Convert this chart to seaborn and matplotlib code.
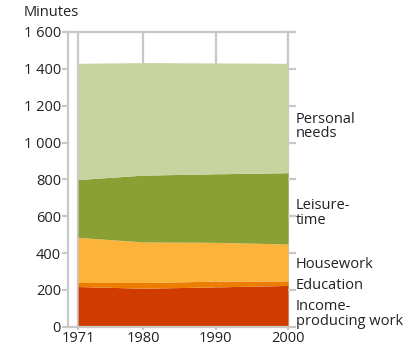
import matplotlib
matplotlib.use("Agg")
import matplotlib.pyplot as plt
from matplotlib.ticker import FuncFormatter
import seaborn as sns

# minutes per day
years = [1971, 1980, 1990, 2000]
income = [218, 209, 216, 224]
education = [22, 31, 31, 25]
housework = [245, 220, 211, 200]
leisure = [314, 363, 372, 387]
personal = [631, 611, 602, 594]

labels = ["Income-\nproducing work", "Education", "Housework", "Leisure-\ntime", "Personal\nneeds"]
label_y = [68, 226, 340, 617, 1088]
colors = ["#D03C00", "#EC7D00", "#FBB33A", "#8A9F34", "#C8D3A0"]
yticks = list(range(0, 1601, 200))

sns.set_theme(style="white")
plt.rcParams["font.family"] = ["Open Sans", "DejaVu Sans"]
grey = "#C8C8C8"
ink = "#222222"
fs = 10.5

fig = plt.figure(figsize=(4.11, 3.5), dpi=100)
ax = fig.add_axes([0.1655, 0.0666, 0.5352, 0.842])

ax.stackplot(years, income, education, housework, leisure, personal,
             colors=colors, linewidth=0, zorder=2)

ax.set_xlim(1969.6, 2000)
ax.set_ylim(0, 1600)
ax.set_xticks(years)
ax.set_yticks(yticks)
ax.yaxis.set_major_formatter(FuncFormatter(lambda v, p: f"{int(v):,}".replace(",", " ")))

for x in years:
    ax.axvline(x, color=grey, lw=1.6, zorder=1)

for s in ["left", "top", "bottom", "right"]:
    ax.spines[s].set_color(grey)
    ax.spines[s].set_linewidth(1.6)
ax.spines["right"].set_zorder(1)

ax.tick_params(axis="y", left=True, right=False, length=4, width=1.6,
               color=grey, labelsize=fs, labelcolor=ink, pad=1)
ax.tick_params(axis="x", bottom=True, length=2, width=1.6, color=grey,
               labelsize=fs, labelcolor=ink, pad=1)

# short marks on the right side, at the same heights as the y ticks
ax.hlines(yticks, 1.0, 1.036, transform=ax.get_yaxis_transform(),
          colors=grey, lw=1.6, clip_on=False, zorder=3)

for txt, y in zip(labels, label_y):
    ax.text(2001.1, y, txt, fontsize=fs, color=ink, va="center", ha="left",
            linespacing=0.95, clip_on=False, zorder=4)

fig.text(0.058, 0.963, "Minutes", fontsize=fs, color=ink, va="center", ha="left")

fig.savefig("out.png", dpi=100)
